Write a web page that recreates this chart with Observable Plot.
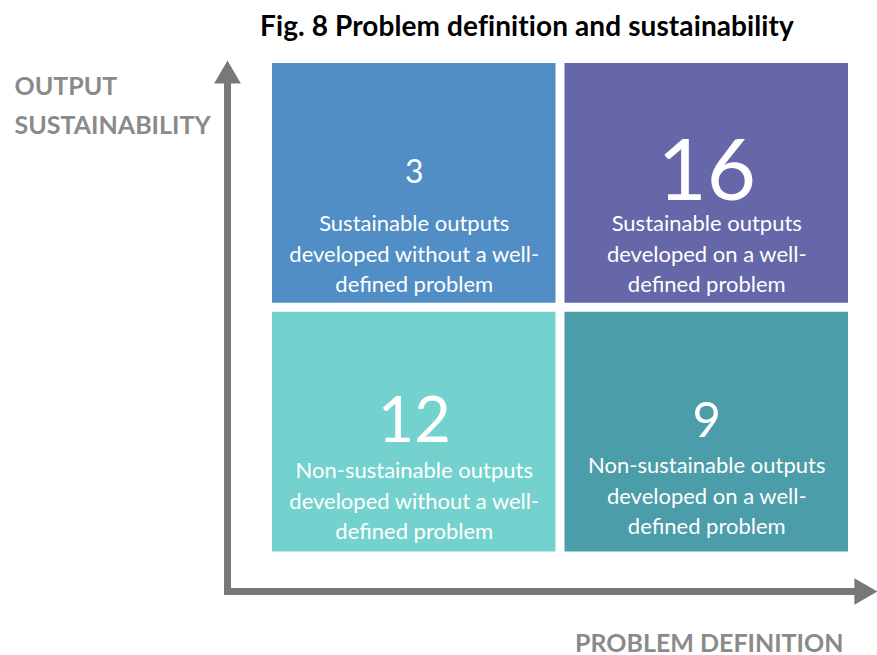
<!DOCTYPE html>
<html><head><meta charset="utf-8">
<script src="https://cdn.jsdelivr.net/npm/d3@7"></script>
<script src="https://cdn.jsdelivr.net/npm/@observablehq/plot@0.6"></script>
<style>
body{margin:0;background:#fff;font-family:Lato,"Open Sans",sans-serif;}
#title{height:50px;line-height:50px;width:700px;padding-left:177px;text-align:center;font-weight:bold;font-size:28px;color:#000;letter-spacing:0.1px;}
</style></head><body>
<div id="title">Fig. 8 Problem definition and sustainability</div>
<div id="chart"></div>
<script>
// Quadrant data
const problemDefinition = ["Without a well-defined problem", "On a well-defined problem"]; // columns 0,1
const outputSustainability = ["Non-sustainable", "Sustainable"]; // rows 0 (bottom), 1 (top)
const cellCol = [0, 1, 0, 1];
const cellRow = [1, 1, 0, 0];
const counts = [3, 16, 12, 9];
const descriptions = [
  "Sustainable outputs\ndeveloped without a well-\ndefined problem",
  "Sustainable outputs\ndeveloped on a well-\ndefined problem",
  "Non-sustainable outputs\ndeveloped without a well-\ndefined problem",
  "Non-sustainable outputs\ndeveloped on a well-\ndefined problem"
];
const yAxisLabel = "OUTPUT\nSUSTAINABILITY";
const xAxisLabel = "PROBLEM DEFINITION";

// styles (kept apart from data)
const cellColors = ["#508EC5", "#6567A8", "#73D2CD", "#4B9DA9"];
const numberFontSizes = [32, 85, 63, 49];
const descOffsets = [193, 193, 191, 186];
const axisGray = "#7a7777";
const labelGray = "#8a8a8a";

const cells = counts.map((n, i) => ({
  col: cellCol[i], row: cellRow[i], n, text: descriptions[i],
  color: cellColors[i], size: numberFontSizes[i], off: descOffsets[i]
}));

const chart = Plot.plot({
  width: 877, height: 605,
  marginLeft: 267.5, marginRight: 24.5, marginTop: 8.5, marginBottom: 99,
  x: {domain: [0, 2], axis: null},
  y: {domain: [0, 2], axis: null},
  color: {type: "identity"},
  style: {fontFamily: "Lato, 'Open Sans', sans-serif", background: "white", overflow: "visible"},
  marks: [
    Plot.rect(cells, {x1: "col", x2: d => d.col + 1, y1: "row", y2: d => d.row + 1, fill: "color", inset: 4.5}),
    Plot.text(cells, {x: d => d.col + 0.5, y: d => d.row + 1, dy: 114, text: d => String(d.n),
      fontSize: d => d.size, fill: "white", lineAnchor: "middle"}),
    ...[0, 1, 2, 3].map(i => Plot.text([cells[i]], {x: d => d.col + 0.5, y: d => d.row + 1, dy: cells[i].off, text: "text",
      fontSize: 22, lineHeight: 1.39, fill: "white", lineAnchor: "middle"})),
    // axis arrows
    Plot.ruleX([0], {dx: -40.5, insetTop: 21.5, insetBottom: -39, stroke: axisGray, strokeWidth: 7}),
    Plot.ruleY([0], {dy: 35, insetLeft: -43.5, insetRight: -7.5, stroke: axisGray, strokeWidth: 7}),
    Plot.dot([0], {frameAnchor: "top-left", dx: -40.5, dy: 16.9, symbol: "triangle", r: 9.9, fill: axisGray, stroke: null}),
    Plot.dot([0], {frameAnchor: "bottom-right", dx: 9.1, dy: 35, symbol: "triangle", r: 9.9, rotate: 90, fill: axisGray, stroke: null}),
    // axis labels
    Plot.text([yAxisLabel], {frameAnchor: "top-left", dx: -253.5, dy: 43, textAnchor: "start", lineAnchor: "middle",
      lineHeight: 1.56, fontSize: 25, fontWeight: "bold", fill: labelGray}),
    Plot.text([xAxisLabel], {frameAnchor: "bottom-right", dx: -9.5, dy: 87, textAnchor: "end", lineAnchor: "middle",
      fontSize: 25, fontWeight: "bold", fill: labelGray})
  ]
});
document.getElementById("chart").appendChild(chart);
</script>
</body></html>
